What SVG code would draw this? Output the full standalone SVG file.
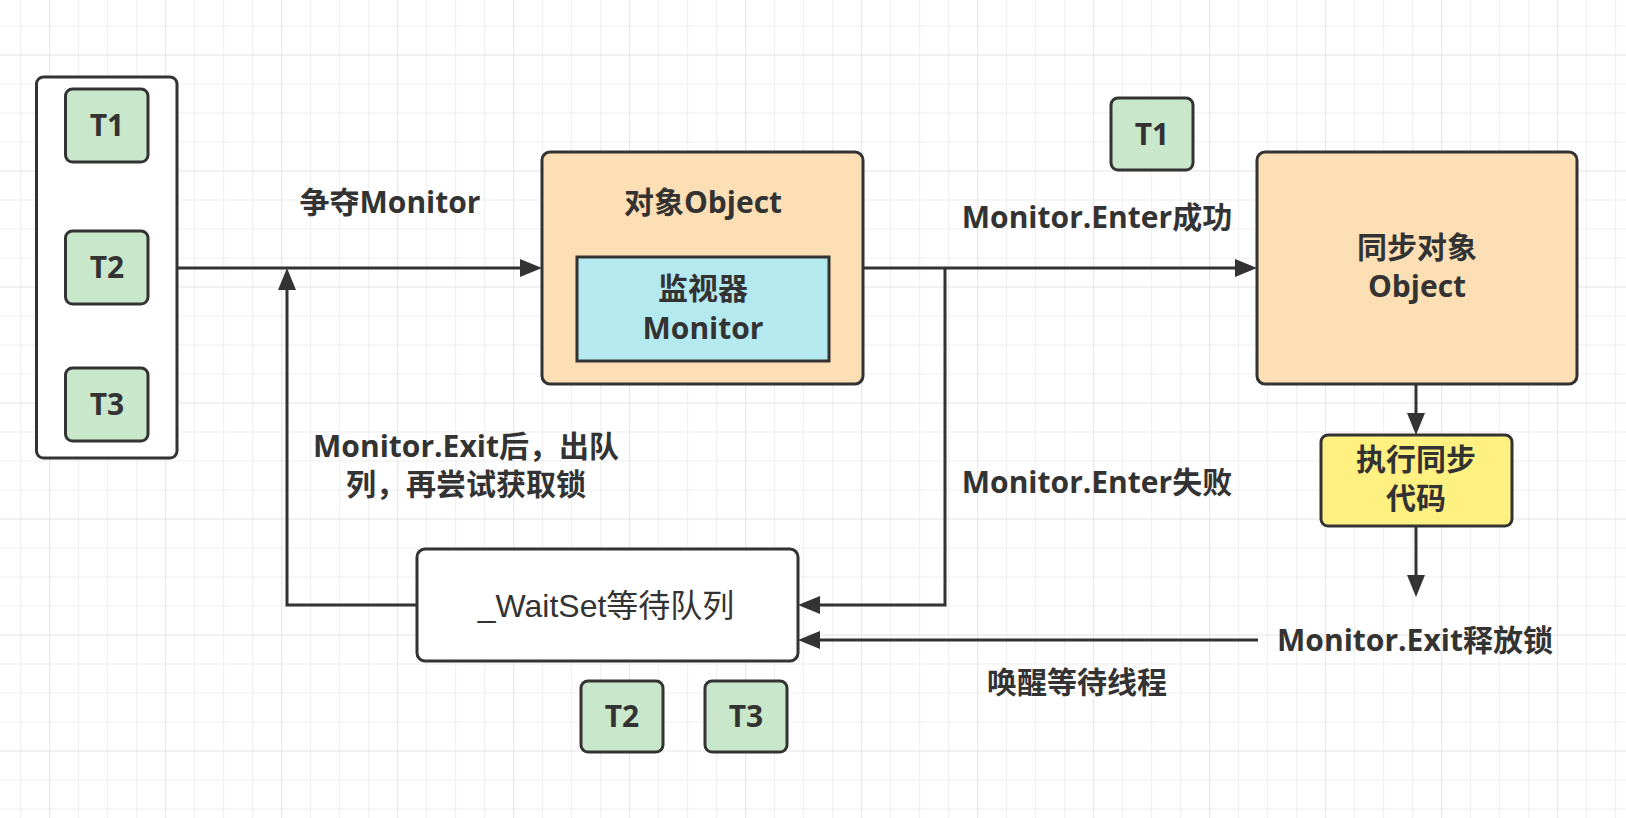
<svg xmlns="http://www.w3.org/2000/svg" width="1626" height="818" viewBox="0 0 1626 818">
  <style>
    .box { stroke: #333333; stroke-width: 3; }
    .t { font-family: "Open Sans", "Noto Sans CJK SC", sans-serif; font-weight: 700; font-size: 30px; fill: #333333; text-anchor: middle; }
    .tr { font-family: "Liberation Sans", "Noto Sans CJK SC", sans-serif; font-weight: 400; font-size: 32px; fill: #333333; text-anchor: middle; }
    .edge { fill: none; stroke: #333333; stroke-width: 3; }
    .green { fill: #c9e7cb; }
  </style>
  <defs>
    <pattern id="grid" patternUnits="userSpaceOnUse" x="49.2" y="54.5" width="116" height="116">
      <path d="M29.5,0 V116 M58.5,0 V116 M87.5,0 V116 M0,29.5 H116 M0,58.5 H116 M0,87.5 H116" stroke="#efefef" stroke-width="1" fill="none"/>
      <path d="M0.5,0 V116 M0,0.5 H116" stroke="#e3e3e3" stroke-width="1" fill="none"/>
    </pattern>
    <marker id="arr" markerUnits="userSpaceOnUse" markerWidth="24" markerHeight="20" refX="1" refY="9" orient="auto">
      <path d="M0,0 L22,9 L0,18 Z" fill="#333333"/>
    </marker>
  </defs>

  <rect x="0" y="0" width="1626" height="818" fill="#ffffff"/>
  <rect x="0" y="0" width="1626" height="818" fill="url(#grid)"/>

  <g id="connectors">
    <path class="edge" d="M177,268 H521" marker-end="url(#arr)"/>
    <path class="edge" d="M863,268 H1236" marker-end="url(#arr)"/>
    <path class="edge" d="M945,268 V605 H819" marker-end="url(#arr)"/>
    <path class="edge" d="M1258,640 H819" marker-end="url(#arr)"/>
    <path class="edge" d="M417,605 H287 V289" marker-end="url(#arr)"/>
    <path class="edge" d="M1416,384 V414" marker-end="url(#arr)"/>
    <path class="edge" d="M1416,526 V576" marker-end="url(#arr)"/>
  </g>

  <g id="thread-container">
    <rect class="box" x="36.5" y="77" width="140.5" height="381" rx="7" fill="#ffffff"/>
  </g>
  <g id="t1-left">
    <rect class="box green" x="65.5" y="89" width="82.5" height="73" rx="7"/>
    <text class="t" x="107" y="136">T1</text>
  </g>
  <g id="t2-left">
    <rect class="box green" x="65.5" y="231" width="82.5" height="73" rx="7"/>
    <text class="t" x="107" y="278">T2</text>
  </g>
  <g id="t3-left">
    <rect class="box green" x="65.5" y="368" width="82.5" height="73" rx="7"/>
    <text class="t" x="107" y="415">T3</text>
  </g>

  <g id="label-contend">
    <text class="t" x="390" y="213">争夺Monitor</text>
  </g>

  <g id="object">
    <rect class="box" x="542" y="152" width="321" height="232" rx="8" fill="#fddfb5"/>
    <text class="t" x="703" y="213">对象Object</text>
  </g>
  <g id="monitor">
    <rect class="box" x="577" y="257" width="252" height="104" fill="#b5e9f0"/>
    <text class="t" x="703" y="299">监视器</text>
    <text class="t" x="703" y="339">Monitor</text>
  </g>

  <g id="t1-top">
    <rect class="box green" x="1111" y="98" width="82" height="72" rx="7"/>
    <text class="t" x="1152" y="145">T1</text>
  </g>

  <g id="label-enter-ok">
    <text class="t" x="1097" y="228">Monitor.Enter成功</text>
  </g>
  <g id="label-enter-fail">
    <text class="t" x="1097" y="493">Monitor.Enter失败</text>
  </g>

  <g id="sync-object">
    <rect class="box" x="1257" y="152" width="320" height="232" rx="8" fill="#fddfb5"/>
    <text class="t" x="1417" y="258">同步对象</text>
    <text class="t" x="1417" y="297">Object</text>
  </g>

  <g id="exec-code">
    <rect class="box" x="1321" y="435" width="191" height="91" rx="7" fill="#fff181"/>
    <text class="t" x="1416" y="470">执行同步</text>
    <text class="t" x="1416" y="509">代码</text>
  </g>

  <g id="label-exit-release">
    <text class="t" x="1415" y="651">Monitor.Exit释放锁</text>
  </g>
  <g id="label-wake">
    <text class="t" x="1077" y="693">唤醒等待线程</text>
  </g>
  <g id="label-exit-dequeue">
    <text class="t" x="466" y="457">Monitor.Exit后，出队</text>
    <text class="t" x="466" y="495">列，再尝试获取锁</text>
  </g>

  <g id="waitset">
    <rect class="box" x="417" y="549" width="381" height="112" rx="8" fill="#ffffff"/>
    <text class="tr" x="606" y="617">_WaitSet等待队列</text>
  </g>

  <g id="t2-bottom">
    <rect class="box green" x="581" y="681" width="82" height="71" rx="7"/>
    <text class="t" x="622" y="727">T2</text>
  </g>
  <g id="t3-bottom">
    <rect class="box green" x="705" y="681" width="82" height="71" rx="7"/>
    <text class="t" x="746" y="727">T3</text>
  </g>
</svg>
